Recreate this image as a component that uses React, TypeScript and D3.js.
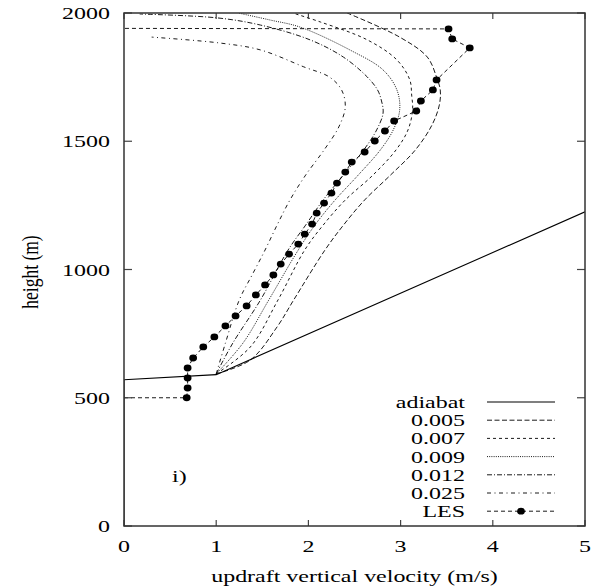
import React from 'react';
import * as d3 from 'd3';

// ---------- data ----------
const xTicks = [0, 1, 2, 3, 4, 5];
const yTicks = [0, 500, 1000, 1500, 2000];

// [velocity (m/s), height (m)]
const adiabat: [number, number][] = [[0, 0], [0, 570], [1.0, 590], [5.0, 1225]];

const ent005: [number, number][] = [
  [1.0, 593], [1.37, 647], [1.66, 776], [1.84, 881], [2.18, 1076], [2.38, 1173],
  [2.61, 1271], [2.89, 1368], [3.16, 1466], [3.34, 1563], [3.42, 1641], [3.43, 1700],
  [3.39, 1750], [3.29, 1828], [2.99, 1906], [2.42, 2000],
];
const ent007: [number, number][] = [
  [1.0, 593], [1.37, 698], [1.67, 881], [1.96, 1076], [2.16, 1173], [2.4, 1271], [2.7, 1368],
  [2.95, 1466], [3.08, 1544], [3.13, 1622], [3.12, 1680], [3.1, 1739], [2.96, 1817],
  [2.64, 1895], [2.13, 1965], [1.83, 2000],
];
const ent009: [number, number][] = [
  [1.0, 593], [1.29, 713], [1.57, 881], [1.89, 1076], [2.07, 1173], [2.29, 1271], [2.54, 1368],
  [2.78, 1466], [2.92, 1544], [2.99, 1622], [2.96, 1700], [2.81, 1778], [2.45, 1856],
  [1.91, 1945], [1.58, 1973], [1.24, 2000],
];
const ent012: [number, number][] = [
  [1.0, 593], [1.18, 713], [1.48, 881], [1.78, 1076], [1.97, 1173], [2.16, 1271], [2.38, 1368],
  [2.6, 1466], [2.74, 1544], [2.81, 1610], [2.79, 1661], [2.75, 1700], [2.64, 1750],
  [2.38, 1828], [2.02, 1895], [1.48, 1953], [1.01, 1981], [0.17, 1996],
];
const ent025: [number, number][] = [
  [1.0, 593], [1.1, 713], [1.25, 881], [1.39, 979], [1.53, 1076], [1.66, 1173],
  [1.8, 1271], [1.97, 1368], [2.17, 1466], [2.33, 1556], [2.4, 1634], [2.36, 1700],
  [2.23, 1750], [1.95, 1790], [1.48, 1856], [1.04, 1883], [0.3, 1906],
];
const les: [number, number][] = [
  [0, 500], [0.68, 500], [0.69, 538], [0.69, 577], [0.69, 616], [0.75, 655], [0.86, 698],
  [0.98, 737], [1.1, 780], [1.21, 819], [1.33, 858], [1.43, 901], [1.53, 940],
  [1.62, 979], [1.7, 1021], [1.79, 1060], [1.89, 1099], [1.96, 1138], [2.04, 1177],
  [2.09, 1220], [2.17, 1259], [2.25, 1298], [2.31, 1337], [2.4, 1380], [2.47, 1419],
  [2.61, 1458], [2.72, 1501], [2.83, 1540], [2.93, 1579], [3.17, 1618], [3.22, 1657],
  [3.35, 1700], [3.39, 1739], [3.75, 1864], [3.56, 1899], [3.52, 1938], [0, 1940],
];

const legendLabels = ['adiabat', '0.005', '0.007', '0.009', '0.012', '0.025', 'LES'];

// ---------- layout ----------
const W = 604;
const H = 588;
const L = 124, R = 585, T = 13, B = 526;
const x = d3.scaleLinear().domain([0, 5]).range([L, R]);
const y = d3.scaleLinear().domain([0, 2000]).range([B, T]);

const SX = 1.37;
const FONT = "'Liberation Serif','Times New Roman',serif";
const FS = 17.5;

function Txt({ px, py, anchor = 'start', rotate = false, children }: any) {
  const tr = rotate
    ? `translate(${px},${py}) scale(${SX},1) rotate(-90)`
    : `translate(${px},${py}) scale(${SX},1)`;
  return (
    <text transform={tr} textAnchor={anchor} fontFamily={FONT} fontSize={FS} fill="#000">
      {children}
    </text>
  );
}

const smooth = d3
  .line<[number, number]>()
  .x((d) => x(d[0]))
  .y((d) => y(d[1]))
  .curve(d3.curveCatmullRom.alpha(0.5));
const straight = d3
  .line<[number, number]>()
  .x((d) => x(d[0]))
  .y((d) => y(d[1]));

const series = [
  { label: legendLabels[0], data: adiabat, dash: 'none', path: straight, w: 1.1 },
  { label: legendLabels[1], data: ent005, dash: '5,2.5', path: smooth, w: 0.9 },
  { label: legendLabels[2], data: ent007, dash: '3,3', path: smooth, w: 0.9 },
  { label: legendLabels[3], data: ent009, dash: '1,1.2', path: smooth, w: 0.9 },
  { label: legendLabels[4], data: ent012, dash: '5,2,1,2', path: smooth, w: 0.9 },
  { label: legendLabels[5], data: ent025, dash: '4,3.5,1,3.5', path: smooth, w: 0.9 },
];
const lesDash = '4,3';

export default function App() {
  const legY = (i: number) => 402 + i * 18.2;
  return (
    <svg
      width={W}
      height={H}
      viewBox={`0 0 ${W} ${H}`}
      style={{ position: 'absolute', left: 0, top: 0, background: '#fff' }}
    >
      <defs>
        <clipPath id="plotclip">
          <rect x={L} y={T} width={R - L} height={B - T} />
        </clipPath>
      </defs>
      <rect x={0} y={0} width={W} height={H} fill="#fff" />

      <g clipPath="url(#plotclip)">
        {series.map((s) => (
          <path
            key={s.label}
            d={s.path(s.data) || ''}
            fill="none"
            stroke="#000"
            strokeWidth={s.w}
            strokeDasharray={s.dash}
          />
        ))}
        <path d={straight(les) || ''} fill="none" stroke="#000" strokeWidth={0.9} strokeDasharray={lesDash} />
        {les
          .filter((d) => d[0] > 0)
          .map((d, i) => (
            <ellipse key={i} cx={x(d[0])} cy={y(d[1])} rx={3.9} ry={3.4} fill="#000" />
          ))}
      </g>

      {/* ticks */}
      {xTicks.map((t) => (
        <g key={'xt' + t}>
          <line x1={x(t)} x2={x(t)} y1={B} y2={B - 6} stroke="#444" strokeWidth={1.2} />
          <line x1={x(t)} x2={x(t)} y1={T} y2={T + 6} stroke="#444" strokeWidth={1.2} />
          <Txt px={x(t)} py={552} anchor="middle">{t}</Txt>
        </g>
      ))}
      {yTicks.map((t) => (
        <g key={'yt' + t}>
          <line x1={L} x2={L + 8} y1={y(t)} y2={y(t)} stroke="#444" strokeWidth={1.2} />
          <line x1={R} x2={R - 8} y1={y(t)} y2={y(t)} stroke="#444" strokeWidth={1.2} />
          <Txt px={110} py={y(t) + 6} anchor="end">{t}</Txt>
        </g>
      ))}

      {/* frame */}
      <rect x={L} y={T} width={R - L} height={B - T} fill="none" stroke="#333" strokeWidth={1.5} />

      {/* axis labels */}
      <Txt px={(L + R) / 2} py={582} anchor="middle">updraft vertical velocity (m/s)</Txt>
      <Txt px={38} py={272} anchor="middle" rotate>height (m)</Txt>
      <Txt px={172} py={482}>i)</Txt>

      {/* legend */}
      {series.map((s, i) => (
        <g key={'lg' + s.label}>
          <Txt px={465} py={legY(i) + 6} anchor="end">{s.label}</Txt>
          <line x1={487} x2={555} y1={legY(i)} y2={legY(i)} stroke="#000" strokeWidth={s.w} strokeDasharray={s.dash} />
        </g>
      ))}
      <g>
        <Txt px={465} py={legY(6) + 6} anchor="end">{legendLabels[6]}</Txt>
        <line x1={487} x2={555} y1={legY(6)} y2={legY(6)} stroke="#000" strokeWidth={0.9} strokeDasharray={lesDash} />
        <ellipse cx={521} cy={legY(6)} rx={3.9} ry={3.4} fill="#000" />
      </g>
    </svg>
  );
}
